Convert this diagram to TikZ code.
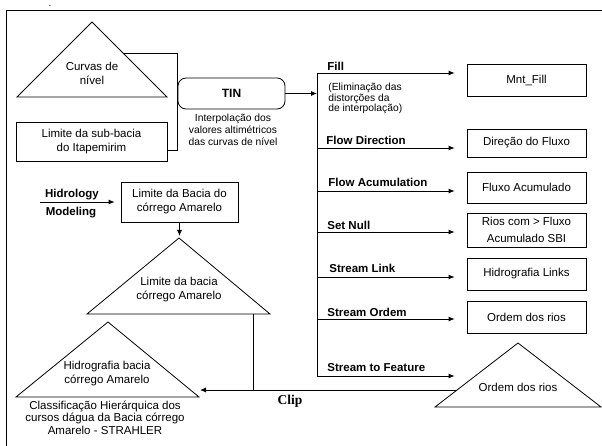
\documentclass[tikz,border=0pt]{standalone}
\usepackage{fontspec}
\setmainfont{Liberation Sans}
\newfontfamily\clipfont{Liberation Serif}
\usetikzlibrary{arrows.meta,positioning}
\tikzset{
  box/.style={draw, align=center, inner sep=0pt, font=\fontsize{11.5}{14}\selectfont},
  txt/.style={align=center, inner sep=0pt, font=\fontsize{11.5}{14}\selectfont},
  oper/.style={anchor=west, inner sep=0pt, font=\fontsize{11.5}{13}\selectfont\bfseries},
  note/.style={align=left, inner sep=0pt, font=\fontsize{10.3}{10.6}\selectfont},
  arr/.style={-{Latex[length=6pt,width=5pt]}},
}
\begin{document}
\begin{tikzpicture}[x=1pt,y=-1pt,line width=0.8pt]
            \useasboundingbox (0,0) rectangle (602,446);
            % frame
            \draw (6,446) -- (6,10) -- (602,10);
            \node (dot) at (50,6) {.};
            % inputs
            \coordinate (cn-l) at (17,97);
            \coordinate (cn-t) at (92,22);
            \coordinate (cn-r) at (167,97);
            \draw (cn-l) -- (cn-t) -- (cn-r) -- cycle;
            \node[txt] (cn) at (92,73.5) {Curvas de\\nível};
            \node[box, minimum width=151pt, minimum height=39pt] (sub) at (91.5,141.5) {Limite da sub-bacia\\do Itapemirim};
            \node[box, rounded corners=8pt, minimum width=107pt, minimum height=31pt, font=\fontsize{12}{14}\selectfont\bfseries] (tin) at (231.5,93.5) {TIN};
            \node[txt, font=\fontsize{10.3}{11.8}\selectfont] (interp) at (233,130) {Interpolação dos\\valores altimétricos\\das curvas de nível};
            \coordinate (cn-e) at (123,53);
            \coordinate (jn-a) at (177,53);
            \coordinate (jn-b) at (177,150);
            \draw (cn-e) -- (jn-a) -- (jn-b) -- (jn-b -| sub.east);
            % trunk
            \coordinate (trunk-a) at (317,73);
            \coordinate (trunk-b) at (317,376);
            \draw (trunk-a) -- (trunk-b);
            \draw[arr] (tin.east) -- (tin.east -| trunk-a);
            \foreach \nm/\yy in {fill/73,fdir/148,facc/191,snull/232,slink/277,sord/319,sfeat/376}
                \coordinate (\nm-in) at (317,\yy);
            % operations
            \node[oper] (fill-op) at (327,66) {Fill};
            \node[note, anchor=west] (elim) at (328,98.5) {(Eliminação das\\distorções da\\de interpolação)};
            \node[oper] (fdir-op) at (326,140) {Flow Direction};
            \node[oper] (facc-op) at (328,182) {Flow Acumulation};
            \node[oper] (snull-op) at (327,225) {Set Null};
            \node[oper] (slink-op) at (329,268) {Stream Link};
            \node[oper] (sord-op) at (327,312) {Stream Ordem};
            \node[oper] (sfeat-op) at (327,368) {Stream to Feature};
            % results
            \node[box, minimum width=119pt, minimum height=32pt] (mntfill) at (526.5,80) {Mnt\_Fill};
            \node[box, minimum width=119pt, minimum height=28pt] (dirflux) at (526.5,143) {Direção do Fluxo};
            \node[box, minimum width=119pt, minimum height=31pt] (fluxacc) at (526.5,187.5) {Fluxo Acumulado};
            \node[box, minimum width=119pt, minimum height=34pt, font=\fontsize{11.5}{17}\selectfont] (rios) at (526.5,230) {Rios com > Fluxo\\Acumulado SBI};
            \node[box, minimum width=119pt, minimum height=32pt] (hlinks) at (526.5,274) {Hidrografia Links};
            \node[box, minimum width=119pt, minimum height=32pt] (ordem) at (526.5,317) {Ordem dos rios};
            \draw[arr, shorten >=12pt] (fill-in) -- (fill-in -| mntfill.west);
            \draw[arr, shorten >=12pt] (fdir-in) -- (fdir-in -| dirflux.west);
            \draw[arr, shorten >=12pt] (facc-in) -- (facc-in -| fluxacc.west);
            \draw[arr, shorten >=12pt] (snull-in) -- (snull-in -| rios.west);
            \draw[arr, shorten >=12pt] (slink-in) -- (slink-in -| hlinks.west);
            \draw[arr, shorten >=12pt] (sord-in) -- (sord-in -| ordem.west);
            \draw[arr, shorten >=12pt] (sfeat-in) -- (sfeat-in -| ordem.west);
            \coordinate (ot-l) at (435,407);
            \coordinate (ot-t) at (518,343);
            \coordinate (ot-r) at (601,407);
            \draw (ot-l) -- (ot-t) -- (ot-r) -- cycle;
            \node[txt] (ordtri) at (518,387) {Ordem dos rios};
            % watershed
            \node[oper, anchor=center] (hidro) at (72,195) {Hidrology};
            \node[oper, anchor=center] (model) at (71,213) {Modeling};
            \coordinate (hm-a) at (40,202);
            \node[box, minimum width=117pt, minimum height=40pt] (lbc) at (179.5,202) {Limite da Bacia do\\córrego Amarelo};
            \draw[arr, shorten >=6pt] (hm-a) -- (hm-a -| lbc.west);
            \coordinate (lb-l) at (87,314);
            \coordinate (lb-t) at (179,238);
            \coordinate (lb-r) at (270,314);
            \draw (lb-l) -- (lb-t) -- (lb-r) -- cycle;
            \node[txt] (lbtri) at (179,290) {Limite da bacia\\córrego Amarelo};
            \draw[arr, shorten >=2pt] (lbc.south) -- (lbc.south |- lb-t);
            \coordinate (hb-l) at (16,397);
            \coordinate (hb-t) at (108,322);
            \coordinate (hb-r) at (199,397);
            \draw (hb-l) -- (hb-t) -- (hb-r) -- cycle;
            \node[txt] (hbtri) at (107,374) {Hidrografia bacia\\córrego Amarelo};
            \node[txt, font=\fontsize{11.5}{12.5}\selectfont] (strahler) at (105,417.5) {Classificação Hierárquica dos\\cursos dágua da Bacia córrego\\Amarelo - STRAHLER};
            % clip
            \coordinate (clip-a) at (457,390);
            \coordinate (clip-b) at (200,390);
            \coordinate (lb-base) at (253,314);
            \draw[arr] (clip-a) -- (clip-b);
            \draw (lb-base) -- (lb-base |- clip-a);
            \node[font=\clipfont\fontsize{13.5}{15}\selectfont\bfseries] (clip) at (290,401) {Clip};
        \end{tikzpicture}
\end{document}
